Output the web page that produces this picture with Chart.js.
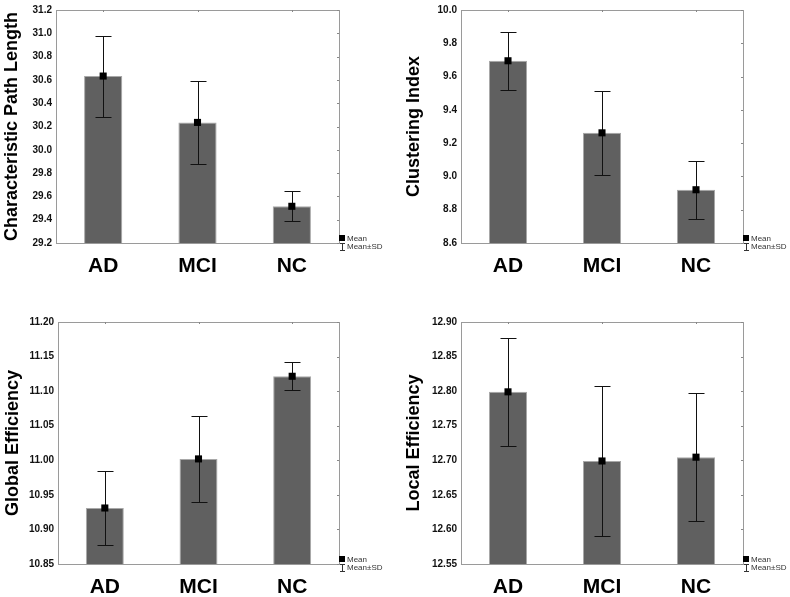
<!DOCTYPE html>
<html>
<head>
<meta charset="utf-8">
<script src="https://cdn.jsdelivr.net/npm/chart.js@4"></script>
<style>
  body { margin: 0; background: #fff; }
  #wrap { position: relative; width: 790px; height: 597px; }
  .panel { position: absolute; }
</style>
</head>
<body>
<div id="wrap">
  <div class="panel" style="left:0;top:0;width:395px;height:297px"><canvas id="cplChart"></canvas></div>
  <div class="panel" style="left:395px;top:0;width:395px;height:297px"><canvas id="ciChart"></canvas></div>
  <div class="panel" style="left:0;top:297px;width:395px;height:300px"><canvas id="geChart"></canvas></div>
  <div class="panel" style="left:395px;top:297px;width:395px;height:300px"><canvas id="leChart"></canvas></div>
</div>
<script>
// groups
var groups = ['AD', 'MCI', 'NC'];

// Characteristic Path Length
var cplMean = [30.633, 30.235, 29.515];
var cplSD = [0.348, 0.355, 0.13];
// Clustering Index
var ciMean = [9.695, 9.262, 8.92];
var ciSD = [0.175, 0.253, 0.175];
// Global Efficiency
var geMean = [10.931, 11.002, 11.1215];
var geSD = [0.054, 0.062, 0.0205];
// Local Efficiency
var leMean = [12.799, 12.699, 12.7045];
var leSD = [0.078, 0.108, 0.0925];

var fontFam = "'Liberation Sans', Arial, sans-serif";

// box, inner ticks, error bars and the little legend
var statPlugin = {
  id: 'statBits',
  beforeDatasetsDraw: function(chart) {
    var a = chart.chartArea, c = chart.ctx;
    var y = chart.scales.y, x = chart.scales.x;
    c.save();
    c.strokeStyle = '#9a9a9a';
    c.lineWidth = 1;
    c.strokeRect(Math.round(a.left) + 0.5, Math.round(a.top) + 0.5,
      Math.round(a.right - a.left), Math.round(a.bottom - a.top));
    c.strokeStyle = '#888';
    y.ticks.forEach(function(t) {
      var py = Math.round(y.getPixelForValue(t.value)) + 0.5;
      c.beginPath(); c.moveTo(a.right - 2, py); c.lineTo(a.right, py); c.stroke();
    });
    for (var i = 0; i < groups.length; i++) {
      var px = Math.round(x.getPixelForValue(i)) + 0.5;
      c.beginPath(); c.moveTo(px, a.top); c.lineTo(px, a.top + 2); c.stroke();
    }
    c.restore();
  },
  afterDatasetDraw: function(chart, args) {
    if (args.index !== 0) return;
    var c = chart.ctx, y = chart.scales.y, x = chart.scales.x;
    var means = chart.data.datasets[1].data;
    var sds = chart.options.plugins.statBits.sd;
    c.save();
    c.strokeStyle = '#111';
    c.lineWidth = 1;
    for (var i = 0; i < means.length; i++) {
      var px = Math.round(x.getPixelForValue(i)) + 0.5;
      var hi = Math.round(y.getPixelForValue(means[i] + sds[i])) + 0.5;
      var lo = Math.round(y.getPixelForValue(means[i] - sds[i])) + 0.5;
      c.beginPath();
      c.moveTo(px, hi); c.lineTo(px, lo);
      c.moveTo(px - 8, hi); c.lineTo(px + 8, hi);
      c.moveTo(px - 8, lo); c.lineTo(px + 8, lo);
      c.stroke();
    }
    c.restore();
  },
  afterDraw: function(chart) {
    var a = chart.chartArea, c = chart.ctx;
    var r = Math.round(a.right), b = Math.round(a.bottom);
    c.save();
    c.fillStyle = '#000';
    c.fillRect(r, b - 8, 6, 6);
    c.strokeStyle = '#333';
    c.lineWidth = 1;
    c.beginPath();
    c.moveTo(r + 3.5, b + 0.5); c.lineTo(r + 3.5, b + 7.5);
    c.moveTo(r + 1, b + 0.5); c.lineTo(r + 6, b + 0.5);
    c.moveTo(r + 1, b + 7.5); c.lineTo(r + 6, b + 7.5);
    c.stroke();
    c.fillStyle = '#333';
    c.font = '8px ' + fontFam;
    c.textBaseline = 'middle';
    c.fillText('Mean', r + 8, b - 4);
    c.fillText('Mean\u00b1SD', r + 8, b + 4);
    c.restore();
  }
};

function makePanel(id, title, means, sds, ymin, ymax, step, dec, box, titlePad) {
  var ctx = document.getElementById(id).getContext('2d');
  return new Chart(ctx, {
    type: 'bar',
    data: {
      labels: groups,
      datasets: [{
        data: means,
        backgroundColor: '#606060',
        borderColor: '#a8a8a8',
        borderWidth: 1,
        barPercentage: 0.405,
        categoryPercentage: 1,
        order: 2
      }, {
        type: 'line',
        data: means,
        showLine: false,
        pointStyle: 'rect',
        pointRadius: 5,
        pointBackgroundColor: '#000',
        pointBorderColor: '#000',
        pointBorderWidth: 0,
        order: 1
      }]
    },
    options: {
      responsive: true,
      maintainAspectRatio: false,
      animation: false,
      layout: {
        padding: { left: 0, right: box.w - box.right, top: box.top, bottom: 0 }
      },
      plugins: {
        legend: { display: false },
        tooltip: { enabled: false },
        statBits: { sd: sds }
      },
      scales: {
        x: {
          grid: { display: false, drawTicks: false },
          border: { display: false },
          ticks: {
            color: '#000',
            padding: 11,
            font: { family: fontFam, size: 21, weight: 'bold' }
          },
          afterFit: function(s) { s.height = box.h - box.bottom; }
        },
        y: {
          min: ymin,
          max: ymax,
          grid: { display: false, drawTicks: false },
          border: { display: false },
          ticks: {
            stepSize: step,
            color: '#111',
            padding: 4,
            font: { family: fontFam, size: 10, weight: 'bold' },
            callback: function(v) { return Number(v).toFixed(dec); }
          },
          title: {
            display: true,
            text: title,
            color: '#000',
            padding: { top: titlePad, bottom: 0 },
            font: { family: fontFam, size: 18, weight: 'bold' }
          },
          afterFit: function(s) { s.width = box.left; }
        }
      }
    },
    plugins: [statPlugin]
  });
}

makePanel('cplChart', 'Characteristic Path Length', cplMean, cplSD, 29.2, 31.2, 0.2, 1,
  { w: 395, h: 297, left: 56, right: 339, top: 7, bottom: 243 }, 1);
makePanel('ciChart', 'Clustering Index', ciMean, ciSD, 8.6, 10.0, 0.2, 1,
  { w: 395, h: 297, left: 66, right: 348, top: 7, bottom: 243 }, 8);
makePanel('geChart', 'Global Efficiency', geMean, geSD, 10.85, 11.2, 0.05, 2,
  { w: 395, h: 300, left: 58, right: 339, top: 25, bottom: 267 }, 2);
makePanel('leChart', 'Local Efficiency', leMean, leSD, 12.55, 12.9, 0.05, 2,
  { w: 395, h: 300, left: 66, right: 348, top: 25, bottom: 267 }, 8);
</script>
</body>
</html>
